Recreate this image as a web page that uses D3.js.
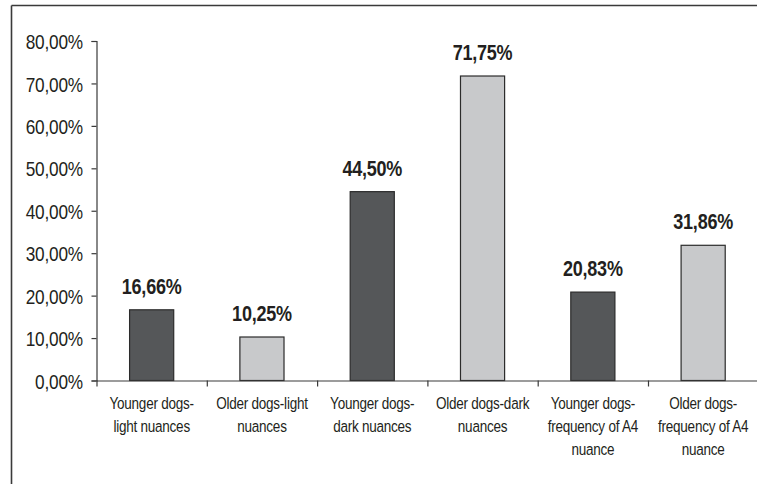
<!DOCTYPE html>
<html>
<head>
<meta charset="utf-8">
<script src="https://cdn.jsdelivr.net/npm/d3@7"></script>
<style>
  html, body { margin: 0; padding: 0; background: #fff; overflow: hidden; }
  svg { display: block; overflow: hidden; background: #fff; }
  text { font-family: "Liberation Sans", Arial, sans-serif; fill: #231f20; }
</style>
</head>
<body>
<svg id="chart" width="757" height="484"></svg>
<script>
const categories = [
  "Younger dogs-\nlight nuances",
  "Older dogs-light\nnuances",
  "Younger dogs-\ndark nuances",
  "Older dogs-dark\nnuances",
  "Younger dogs-\nfrequency of A4\nnuance",
  "Older dogs-\nfrequency of A4\nnuance"
];
const values = [16.66, 10.25, 44.50, 71.75, 20.83, 31.86];
const groups = ["young", "old", "young", "old", "young", "old"];
const yTicks = [0, 10, 20, 30, 40, 50, 60, 70, 80];

const svg = d3.select("#chart");
const NARROW = 0.82; // horizontal compression imitating a narrow typeface

// outer frame: only its top and left edges fall inside the picture
svg.append("line").attr("x1", 11.5).attr("x2", 757).attr("y1", 5.5).attr("y2", 5.5)
  .attr("stroke", "#3a3a3a").attr("stroke-width", 1.6);
svg.append("line").attr("x1", 11.5).attr("x2", 11.5).attr("y1", 5.5).attr("y2", 484)
  .attr("stroke", "#3a3a3a").attr("stroke-width", 1.6);

const x0 = 96.5, step = 110.3;
const x = d3.scaleBand().domain(d3.range(categories.length))
  .range([x0, x0 + step * categories.length])
  .paddingInner(0.6).paddingOuter(0.3);
const xb = d3.scaleLinear().domain([0, categories.length]).range([x0, x0 + step * categories.length]);
const y = d3.scaleLinear().domain([0, 80]).range([380.5, 41]);

const fmt = v => v.toFixed(2).replace(".", ",") + "%";
const color = { young: "#555759", old: "#c8c9cb" };

// y axis
const yAxis = svg.append("g").attr("transform", `translate(${x0},0)`)
  .call(d3.axisLeft(y).tickValues(yTicks).tickFormat(fmt).tickSize(5).tickSizeOuter(5).tickPadding(8));
yAxis.selectAll("path, line").attr("stroke", "#3a3a3a").attr("stroke-width", 1.2);
yAxis.selectAll("text")
  .attr("x", -13.5 / NARROW)
  .attr("transform", `scale(${NARROW},1)`)
  .attr("font-size", 21).attr("letter-spacing", -0.2)
  .style("font-family", '"Liberation Sans", Arial, sans-serif')
  .attr("fill", "#231f20").attr("dy", "0.36em");

// bars
svg.append("g").selectAll("rect").data(values).join("rect")
  .attr("x", (d, i) => x(i))
  .attr("y", d => y(d))
  .attr("width", x.bandwidth())
  .attr("height", d => y(0) - y(d))
  .attr("fill", (d, i) => color[groups[i]])
  .attr("stroke", "#2b2b2b").attr("stroke-width", 1.2);

// x axis with ticks at category boundaries
const xAxis = svg.append("g").attr("transform", `translate(0,${y(0)})`)
  .call(d3.axisBottom(xb).tickValues(d3.range(categories.length)).tickFormat("").tickSize(6).tickSizeOuter(0));
xAxis.selectAll("path, line").attr("stroke", "#3a3a3a").attr("stroke-width", 1.2);

// value labels
svg.append("g").selectAll("text").data(values).join("text")
  .attr("transform", (d, i) => `translate(${x(i) + x.bandwidth() / 2},${y(d) - 16}) scale(${NARROW},1)`)
  .attr("text-anchor", "middle")
  .attr("font-size", 22).attr("font-weight", "bold").attr("letter-spacing", -0.3)
  .text(fmt);

// category labels
const cl = svg.append("g").selectAll("text").data(categories).join("text")
  .attr("transform", (d, i) => `translate(${x(i) + x.bandwidth() / 2},409) scale(${NARROW},1)`)
  .attr("text-anchor", "middle")
  .attr("font-size", 16.5).attr("letter-spacing", -0.3);
cl.each(function(d) {
  const t = d3.select(this);
  d.split("\n").forEach((line, k) => {
    t.append("tspan").attr("x", 0).attr("dy", k === 0 ? 0 : 23).text(line);
  });
});
</script>
</body>
</html>
